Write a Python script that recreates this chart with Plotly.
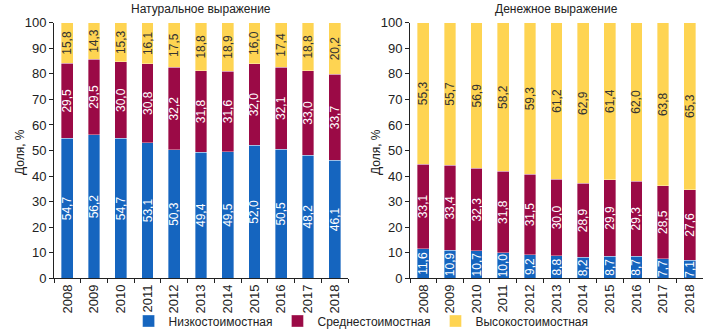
import plotly.graph_objects as go

years = [str(y) for y in range(2008, 2019)]
series_names = ["Низкостоимостная", "Среднестоимостная", "Высокостоимостная"]
colors = ["#1565BF", "#9B0A46", "#FED452"]
text_colors = ["white", "white", "#333333"]

nat_low = [54.7, 56.2, 54.7, 53.1, 50.3, 49.4, 49.5, 52.0, 50.5, 48.2, 46.1]
nat_mid = [29.5, 29.5, 30.0, 30.8, 32.2, 31.8, 31.6, 32.0, 32.1, 33.0, 33.7]
nat_high = [15.8, 14.3, 15.3, 16.1, 17.5, 18.8, 18.9, 16.0, 17.4, 18.8, 20.2]

mon_low = [11.6, 10.9, 10.7, 10.0, 9.2, 8.8, 8.2, 8.7, 8.7, 7.7, 7.1]
mon_mid = [33.1, 33.4, 32.3, 31.8, 31.5, 30.0, 28.9, 29.9, 29.3, 28.5, 27.6]
mon_high = [55.3, 55.7, 56.9, 58.2, 59.3, 61.2, 62.9, 61.4, 62.0, 63.8, 65.3]

titles = ["Натуральное выражение", "Денежное выражение"]
y_title = "Доля, %"
y_ticks = list(range(0, 101, 10))


def fmt(v):
    return f"{v:.1f}".replace(".", ",")


fig = go.Figure()

panels = [(nat_low, nat_mid, nat_high), (mon_low, mon_mid, mon_high)]
for p, data in enumerate(panels):
    xa = "x" if p == 0 else "x2"
    ya = "y" if p == 0 else "y2"
    for i, vals in enumerate(data):
        fig.add_trace(go.Bar(
            x=years, y=vals, name=series_names[i],
            marker=dict(color=colors[i], line=dict(width=0.6, color="rgba(255,255,255,0.6)")),
            text=[fmt(v) for v in vals],
            textposition="inside", textangle=-90, insidetextanchor="middle",
            textfont=dict(family="Liberation Sans Narrow, Arial Narrow, sans-serif", size=12, color=text_colors[i]),
            xaxis=xa, yaxis=ya, showlegend=(p == 0), legendgroup=series_names[i],
            hoverinfo="skip",
        ))

W, H = 715, 331
top_px, bot_px = 22.7, 278.3
ydom = [(H - bot_px) / H, (H - top_px) / H]
xdom1 = [54 / W, 348 / W]
xdom2 = [410 / W, 703 / W]

axis_font = dict(family="Liberation Sans, Arial, sans-serif", size=13, color="#222")
common_x = dict(type="category", showline=True, linecolor="#222", linewidth=1,
                ticks="outside", tickson="boundaries", ticklen=4, tickcolor="#222",
                tickangle=-90, tickfont=axis_font, showgrid=False, zeroline=False,
                automargin=False)
common_y = dict(range=[0, 100], tickvals=y_ticks, showline=True, linecolor="#222", linewidth=1,
                ticks="outside", ticklen=4, tickcolor="#222", tickfont=axis_font,
                showgrid=False, zeroline=False, domain=ydom, automargin=False)

fig.update_layout(
    width=W, height=H,
    margin=dict(l=0, r=0, t=0, b=0, autoexpand=False),
    paper_bgcolor="white", plot_bgcolor="white",
    barmode="stack", bargap=0.56,
    xaxis=dict(domain=xdom1, anchor="y", **common_x),
    yaxis=dict(anchor="x", **common_y),
    xaxis2=dict(domain=xdom2, anchor="y2", **common_x),
    yaxis2=dict(anchor="x2", **common_y),
    legend=dict(orientation="h", x=0.505, xanchor="center", y=10 / H, yanchor="middle",
                bgcolor="rgba(0,0,0,0)",
                font=dict(family="Liberation Sans, Arial, sans-serif", size=12, color="#222"),
                itemwidth=30, tracegroupgap=0, traceorder="normal"),
    uniformtext=dict(mode="show", minsize=11),
    font=dict(family="Liberation Sans, Arial, sans-serif"),
)

# titles
fig.add_annotation(text=titles[0], x=(xdom1[0] + xdom1[1]) / 2, y=(H - 9) / H, xref="paper", yref="paper",
                   showarrow=False, font=dict(size=12, color="#222"), xanchor="center", yanchor="middle")
fig.add_annotation(text=titles[1], x=(xdom2[0] + xdom2[1]) / 2, y=(H - 9) / H, xref="paper", yref="paper",
                   showarrow=False, font=dict(size=12, color="#222"), xanchor="center", yanchor="middle")
for xp in [20, 376]:
    fig.add_annotation(text=y_title, x=xp / W, y=(H - 152) / H, xref="paper", yref="paper",
                       showarrow=False, textangle=-90, font=dict(size=12, color="#222"),
                       xanchor="center", yanchor="middle")

fig.write_html("out.html")
